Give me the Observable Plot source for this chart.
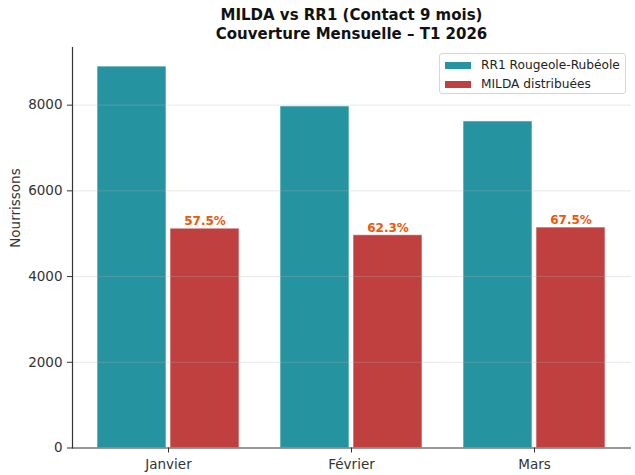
<!DOCTYPE html>
<html><head><meta charset="utf-8">
<script src="https://cdn.jsdelivr.net/npm/d3@7"></script>
<script src="https://cdn.jsdelivr.net/npm/@observablehq/plot@0.6"></script>
<style>
body{margin:0;background:#fff;font-family:"DejaVu Sans",sans-serif;}
#wrap{position:relative;width:635px;height:475px;overflow:hidden;}
#title{position:absolute;left:72px;width:559px;top:6px;text-align:center;font-weight:bold;font-size:15px;line-height:18.6px;color:#111;}
#chart{position:absolute;left:0;top:42px;}
#legend{position:absolute;left:439px;top:53px;width:185px;height:39px;border:1px solid #d6d6d6;border-radius:3px;background:rgba(255,255,255,0.85);font-size:12.2px;color:#222;}
.row{position:absolute;left:5px;height:16px;display:flex;align-items:center;}
.sw{width:26px;height:7px;margin-right:10px;}
</style></head>
<body>
<div id="wrap">
<div id="title">MILDA vs RR1 (Contact 9 mois)<br>Couverture Mensuelle – T1 2026</div>
<div id="chart"></div>
<div id="legend"></div>
</div>
<script>
const months = ["Janvier", "Février", "Mars"];
const series = ["RR1 Rougeole-Rubéole", "MILDA distribuées"];
const rr1 = [8900, 7970, 7620];
const milda = [5118, 4965, 5144];
const pctLabels = ["57.5%", "62.3%", "67.5%"];
const yTicks = [0, 2000, 4000, 6000, 8000];
const colors = ["#2694a0", "#c03f3f"];

const rrData = months.map((m, i) => ({month: m, value: rr1[i], series: series[0]}));
const miData = months.map((m, i) => ({month: m, value: milda[i], series: series[1], pct: pctLabels[i]}));

const plot = Plot.plot({
  width: 635, height: 433,
  marginTop: 5, marginBottom: 27.5, marginLeft: 72, marginRight: 4,
  style: {fontFamily: "DejaVu Sans, sans-serif", fontSize: "13.5px", color: "#333", background: "transparent"},
  x: {type: "band", domain: months, paddingInner: 0.223, paddingOuter: 0.133, label: null},
  y: {domain: [0, 9345], label: null},
  color: {domain: series, range: colors},
  marks: [
    Plot.barY(rrData, {x: "month", y: "value", fill: "series", insetRight: 73, stroke: "white", strokeWidth: 1, strokeOpacity: 0.6}),
    Plot.barY(miData, {x: "month", y: "value", fill: "series", insetLeft: 73, stroke: "white", strokeWidth: 1, strokeOpacity: 0.6}),
    Plot.ruleY(yTicks.filter(d => d > 0), {stroke: "#b0b0b0", strokeOpacity: 0.3}),
    Plot.text(miData, {x: "month", y: "value", text: "pct", dx: 36.5, dy: -7.5, fill: "#e8590c", fontWeight: "bold", fontSize: 12, lineAnchor: "middle"}),
    Plot.axisY({ticks: yTicks, tickSize: 5, tickPadding: 5, label: null, tickFormat: d => String(d), color: "#333"}),
    Plot.axisX({tickSize: 5, tickPadding: 6, label: null, color: "#333"}),
    Plot.frame({anchor: "left", stroke: "#333", strokeWidth: 1.2}),
    Plot.ruleY([0], {stroke: "#333", strokeWidth: 1.2}),
    Plot.text(["Nourrissons"], {frameAnchor: "left", rotate: -90, dx: -56.5, fontSize: 13.5, fill: "#333", lineAnchor: "middle"})
  ]
});
document.getElementById("chart").appendChild(plot);

const lg = document.getElementById("legend");
series.forEach((s, i) => {
  const r = document.createElement("div");
  r.className = "row";
  r.style.top = (3 + i * 19) + "px";
  r.innerHTML = `<span class="sw" style="background:${colors[i]}"></span><span>${s}</span>`;
  lg.appendChild(r);
});
</script>
</body></html>
